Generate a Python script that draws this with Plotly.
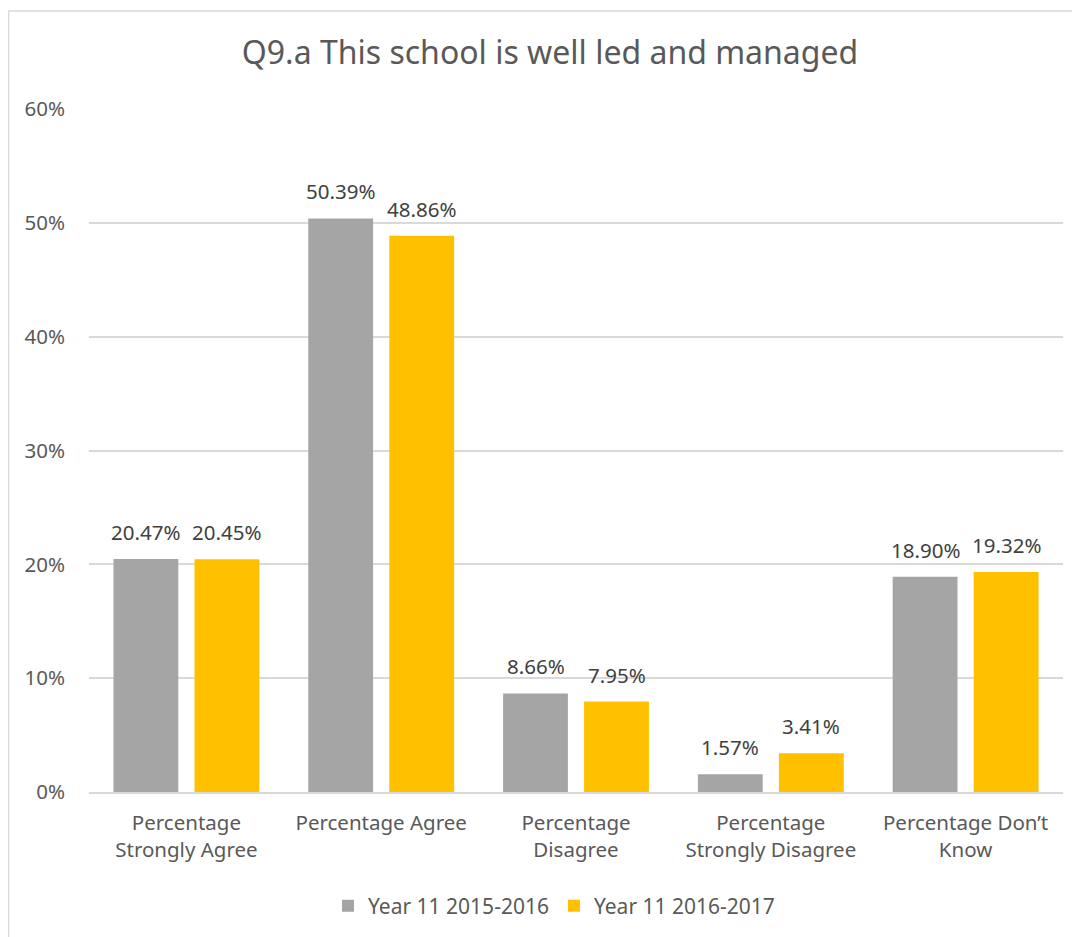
import plotly.graph_objects as go

categories = ["Percentage<br>Strongly Agree", "Percentage Agree", "Percentage<br>Disagree",
              "Percentage<br>Strongly Disagree", "Percentage Don\u2019t<br>Know"]
series_names = ["Year 11 2015-2016", "Year 11 2016-2017"]
values_2015 = [20.47, 50.39, 8.66, 1.57, 18.90]
values_2016 = [20.45, 48.86, 7.95, 3.41, 19.32]
colors = ["#A5A5A5", "#FFC000"]
tick_vals = [0, 10, 20, 30, 40, 50, 60]
tick_text = ["0%", "10%", "20%", "30%", "40%", "50%", "60%"]

FONT = "Noto Sans"
# page offset of 8px (body margin) compensated in margins
L, R, T, B = 81, 25, 101, 153
W, H = 1080, 937
pw, ph = W - L - R, H - T - B

fig = go.Figure()
for name, vals, col in zip(series_names, [values_2015, values_2016], colors):
    fig.add_trace(go.Bar(
        x=categories, y=vals, name=name, marker=dict(color=col, line=dict(width=0)),
    ))

for i, (vals, shift) in enumerate([(values_2015, -40.5), (values_2016, 40.5)]):
    for c, v in zip(categories, vals):
        fig.add_annotation(x=c, y=v, text=f"{v:.2f}%", showarrow=False, xshift=shift,
                           yshift=27, yanchor="middle", xanchor="center",
                           font=dict(family=FONT, size=20.5, color="#404040"))

fig.update_layout(
    width=W, height=H,
    margin=dict(l=L, r=R, t=T, b=B),
    paper_bgcolor="white", plot_bgcolor="white",
    barmode="group", bargap=0.168, bargroupgap=0.2,
    font=dict(family=FONT, color="#595959"),
    title=dict(text="Q9.a This school is well led and managed", x=(550 - 8) / W, xanchor="center",
               y=1 - 45 / H, yanchor="middle",
               font=dict(family=FONT, size=32, color="#595959")),
    xaxis=dict(tickfont=dict(family=FONT, size=20.5, color="#595959"), showline=True,
               linecolor="#D9D9D9", linewidth=1.5, ticks="outside", ticklen=12,
               tickcolor="rgba(0,0,0,0)", showgrid=False),
    yaxis=dict(range=[0, 60], tickvals=tick_vals, ticktext=tick_text, showgrid=True,
               gridcolor="#D9D9D9", gridwidth=1.5, zeroline=False, ticks="",
               tickfont=dict(family=FONT, size=20.5, color="#595959"), ticklabelstandoff=23),
    legend=dict(orientation="h", x=(554 - 8 - L) / pw, xanchor="center",
                y=(792 - 906) / ph, yanchor="middle",
                font=dict(family=FONT, size=21, color="#595959"), itemwidth=30,
                traceorder="normal"),
    showlegend=True,
)
fig.add_shape(type="rect", xref="paper", yref="paper",
              x0=(0.5 - L) / pw, x1=(W + 20 - L) / pw,
              y0=-(B + 20) / ph, y1=(ph + T - 3) / ph,
              line=dict(color="#D9D9D9", width=1.5), fillcolor="rgba(0,0,0,0)", layer="below")
fig.write_html("out.html")
